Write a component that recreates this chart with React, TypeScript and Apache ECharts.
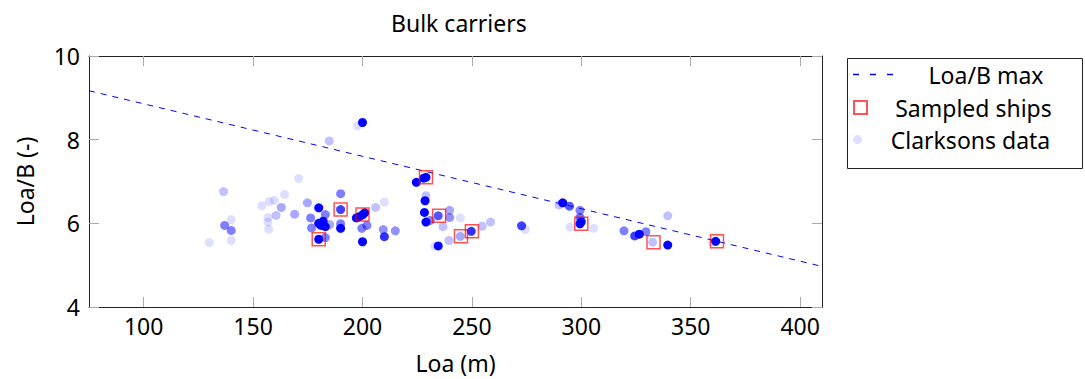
import React, { useEffect, useRef } from "react";
import * as echarts from "echarts";

// ---- data ----
const xTicks = [100, 150, 200, 250, 300, 350, 400];
const yTicks = [4, 6, 8, 10];

// Loa/B max limit line (end points)
const limitLoa = [75, 410];
const limitRatio = [9.17, 4.97];

// Sampled ships
const sampledLoa = [180, 190, 200, 229, 235, 245, 250, 300, 333, 362];
const sampledRatio = [5.62, 6.33, 6.21, 7.1, 6.18, 5.69, 5.81, 5.99, 5.55, 5.57];

// Clarksons data (count = number of overlapping records at that point)
const clarksonsLoa = [
  130, 137, 136.5, 140, 140, 140, 154, 157.4, 159.7, 156.8, 156.8, 157.1, 160.5, 162.9, 164.4,
  170.8, 169, 174.8, 176.3, 176.7, 180, 180, 182, 183, 181, 180, 183, 185, 183, 184.8,
  190, 190, 190, 190, 197.2, 198.5, 200, 201, 197.7, 200, 199.7, 200, 202, 206, 210,
  209.5, 210, 215, 224.6, 229, 228, 229, 228.6, 228.3, 229, 231, 234.6, 239.8, 239.8, 236.8,
  234.6, 233, 239.5, 244.7, 244.7, 249.7, 254.7, 258.5, 272.7, 274.5, 289.8, 291.5, 294.6, 299.4,
  299.4, 300, 299.4, 294.9, 305.7, 319.5, 324.4, 326.5, 329.5, 332.6, 339.5, 339.5, 361.4, 360,
];
const clarksonsRatio = [
  5.54, 5.95, 6.76, 6.09, 5.83, 5.59, 6.42, 6.52, 6.55, 6.14, 6.03, 5.86, 6.19, 6.38, 6.69,
  7.07, 6.22, 6.49, 6.13, 5.89, 6.37, 6.0, 6.05, 5.92, 5.95, 5.62, 6.21, 5.97, 5.66, 7.97,
  6.71, 6.33, 5.99, 5.88, 6.13, 6.16, 6.2, 6.25, 8.33, 8.41, 5.88, 5.56, 5.95, 6.38, 6.51,
  5.85, 5.68, 5.82, 6.98, 7.1, 7.08, 6.66, 6.54, 6.26, 6.03, 6.07, 6.18, 6.31, 6.14, 5.92,
  5.46, 5.45, 5.59, 6.13, 5.69, 5.81, 5.93, 6.03, 5.94, 5.85, 6.44, 6.49, 6.41, 6.31,
  6.14, 6.04, 5.99, 5.91, 5.88, 5.82, 5.7, 5.74, 5.8, 5.55, 5.48, 6.18, 5.57, 5.55,
];
const clarksonsCount = [
  1, 5, 2, 1, 5, 1, 1, 1, 1, 1, 1, 1, 2, 3, 1,
  1, 3, 3, 5, 5, 30, 30, 30, 30, 20, 30, 5, 3, 5, 2,
  5, 10, 5, 30, 30, 30, 30, 30, 1, 30, 5, 30, 5, 2, 1,
  4, 12, 4, 30, 30, 30, 2, 30, 30, 30, 5, 8, 3, 4, 2,
  30, 1, 2, 1, 3, 12, 2, 2, 10, 1, 2, 30, 8, 5,
  6, 20, 30, 1, 1, 5, 10, 30, 5, 2, 30, 2, 30, 1,
];

const FONT = "Noto Sans";
const FS = 23;
const BASE_ALPHA = 0.13;

export default function App() {
  const ref = useRef<HTMLDivElement>(null);

  useEffect(() => {
    if (!ref.current) return;
    const chart = echarts.init(ref.current, undefined, { renderer: "svg" });

    const limitData = limitLoa.map((x, i) => [x, limitRatio[i]]);
    const sampledData = sampledLoa.map((x, i) => [x, sampledRatio[i]]);
    const clarksonsData = clarksonsLoa.map((x, i) => ({
      value: [x, clarksonsRatio[i]],
      itemStyle: { opacity: 1 - Math.pow(1 - BASE_ALPHA, clarksonsCount[i]) },
    }));

    const axisCommon = {
      type: "value" as const,
      axisLine: { show: true, onZero: false, lineStyle: { color: "#222", width: 1 } },
      axisTick: { show: true, inside: true, length: 10, lineStyle: { color: "#aaa", width: 1 } },
      splitLine: { show: false },
    };

    const mkLegend = (name: string, top: number, iw: number, ih: number, icon: string) => ({
      show: true,
      orient: "vertical" as const,
      left: 853,
      top,
      padding: 0,
      itemWidth: iw,
      itemHeight: ih,
      selectedMode: false,
      data: [{ name, icon }],
      formatter: (n: string) => `{t|${n}}`,
      textStyle: {
        fontSize: FS,
        fontFamily: FONT,
        color: "#000",
        rich: {
          t: { width: 176, align: "center" as const, fontSize: FS, fontFamily: FONT, color: "#000", lineHeight: 30 },
        },
      },
    });

    chart.setOption({
      animation: false,
      backgroundColor: "#fff",
      textStyle: { fontFamily: FONT },
      title: {
        text: "Bulk carriers",
        left: 386,
        top: 6,
        textStyle: { fontFamily: FONT, fontSize: FS, fontWeight: "normal", color: "#000" },
      },
      grid: { left: 89, right: 263, top: 56, bottom: 70, containLabel: false },
      legend: [
        mkLegend("Loa/B max", 78 - 15, 40, 13, "path://M0,0h6v1.3h-6zM17,0h6v1.3h-6zM34,0h6v1.3h-6z"),
        mkLegend("Sampled ships", 111 - 15, 40, 13, "path://M0,0H10V10H0Z"),
        mkLegend("Clarksons data", 143 - 15, 40, 9, "circle"),
      ],
      graphic: [
        {
          type: "rect",
          left: 845,
          top: 56,
          shape: { x: 0, y: 0, width: 235, height: 110 },
          style: { fill: "none", stroke: "#222", lineWidth: 1 },
          z: 0,
        },
      ],
      xAxis: [
        {
          ...axisCommon,
          position: "bottom",
          min: 75,
          max: 410,
          name: "Loa (m)",
          nameLocation: "middle",
          nameGap: 44,
          nameTextStyle: { fontFamily: FONT, fontSize: FS, color: "#000" },
          axisTick: { ...axisCommon.axisTick, customValues: xTicks },
          axisLabel: {
            customValues: xTicks,
            margin: 7,
            fontFamily: FONT,
            fontSize: FS,
            color: "#000",
          },
        },
        {
          ...axisCommon,
          position: "top",
          min: 75,
          max: 410,
          axisTick: { ...axisCommon.axisTick, customValues: xTicks },
          axisLabel: { show: false, customValues: xTicks },
        },
      ],
      yAxis: [
        {
          ...axisCommon,
          position: "left",
          min: 4,
          max: 10,
          interval: 2,
          name: "Loa/B (-)",
          nameLocation: "middle",
          nameGap: 53,
          nameTextStyle: { fontFamily: FONT, fontSize: FS, color: "#000" },
          axisTick: { ...axisCommon.axisTick, customValues: yTicks },
          axisLabel: { customValues: yTicks, margin: 9, fontFamily: FONT, fontSize: FS, color: "#000" },
        },
        {
          ...axisCommon,
          position: "right",
          min: 4,
          max: 10,
          interval: 2,
          axisTick: { ...axisCommon.axisTick, customValues: yTicks },
          axisLabel: { show: false },
        },
      ],
      series: [
        {
          name: "Loa/B max",
          type: "line",
          data: limitData,
          showSymbol: false,
          symbol: "none",
          lineStyle: { color: "#0000ff", width: 1, type: [6, 6] },
          itemStyle: { color: "#0000ff" },
          z: 3,
        },
        {
          name: "Sampled ships",
          type: "scatter",
          data: sampledData,
          symbol: "rect",
          symbolSize: 13,
          itemStyle: { color: "rgba(0,0,0,0)", borderColor: "rgba(255,0,0,0.85)", borderWidth: 1.5 },
          z: 4,
        },
        {
          name: "Clarksons data",
          type: "scatter",
          data: clarksonsData,
          symbol: "circle",
          symbolSize: 9,
          itemStyle: { color: "#0000ff", opacity: BASE_ALPHA },
          z: 2,
        },
      ],
    });

    return () => chart.dispose();
  }, []);

  return (
    <div
      ref={ref}
      style={{ position: "fixed", left: 0, top: 0, width: 1085, height: 379 }}
    />
  );
}
